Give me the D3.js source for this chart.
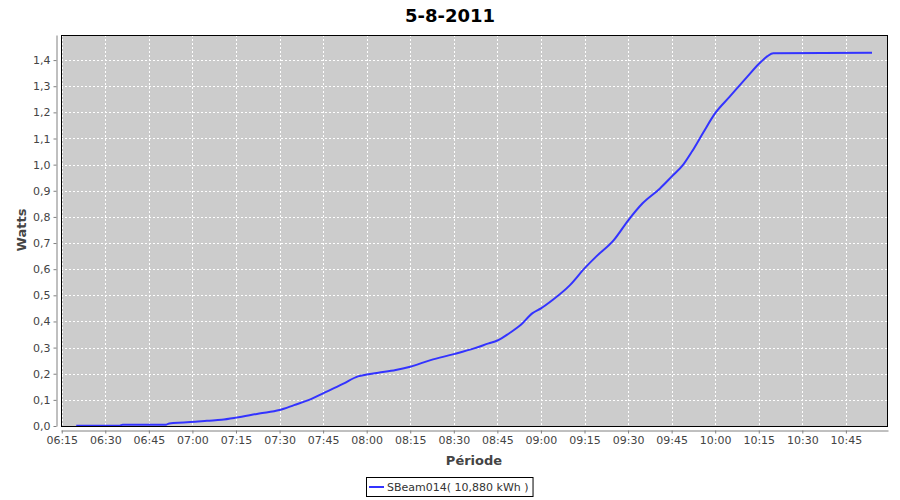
<!DOCTYPE html>
<html><head><meta charset="utf-8">
<script src="https://cdn.jsdelivr.net/npm/d3@7"></script>
<style>body{margin:0;background:#fff}svg{display:block}</style>
</head><body><svg id="c" width="900" height="500"></svg>
<script>
const title = "5-8-2011";
const seriesName = "SBeam014( 10,880 kWh )";
const times = ["06:20","06:35","06:36","06:51","06:52","06:57","07:01","07:05","07:10","07:15","07:23","07:30","07:35","07:41","07:45","07:52","07:57","08:00","08:04","08:10","08:15","08:22","08:30","08:37","08:42","08:45","08:49","08:53","08:57","09:00","09:04","09:10","09:15","09:19","09:25","09:30","09:35","09:41","09:45","09:49","09:52","09:56","10:00","10:05","10:11","10:15","10:18","10:20","10:54"];
const values = [0.001,0.001,0.005,0.005,0.010,0.013,0.016,0.020,0.024,0.032,0.048,0.061,0.080,0.104,0.125,0.162,0.190,0.197,0.204,0.214,0.227,0.252,0.275,0.297,0.316,0.327,0.354,0.386,0.431,0.450,0.482,0.539,0.603,0.648,0.710,0.786,0.852,0.909,0.954,1.000,1.050,1.125,1.197,1.260,1.336,1.385,1.415,1.426,1.428];
const xTickLabels = ["06:15","06:30","06:45","07:00","07:15","07:30","07:45","08:00","08:15","08:30","08:45","09:00","09:15","09:30","09:45","10:00","10:15","10:30","10:45"];
const yTicks = [0,0.1,0.2,0.3,0.4,0.5,0.6,0.7,0.8,0.9,1.0,1.1,1.2,1.3,1.4];

const parse = s => { const p = s.split(":"); return new Date(2011,7,5,+p[0],+p[1],p[2]?+p[2]:0); };
const data = times.map((t,i)=>({t:parse(t), v:values[i]}));

const L=61, R=888, T=35, B=426;
const svg = d3.select("#c");
const x = d3.scaleTime().domain([parse("06:14:45"), parse("10:59:30")]).range([L,R]);
const y = d3.scaleLinear().domain([0,1.496]).range([B,T]);
const fmt = d3.format(".1f");
const font = "DejaVu Sans";

svg.append("rect").attr("x",L).attr("y",T).attr("width",R-L).attr("height",B-T).attr("fill","#cccccc");

const xt = xTickLabels.map(parse);
svg.append("g").selectAll("line").data(xt).join("line")
  .attr("x1",d=>Math.round(x(d))+0.5).attr("x2",d=>Math.round(x(d))+0.5).attr("y1",T).attr("y2",B)
  .attr("stroke","#fff").attr("stroke-dasharray","2,2").attr("stroke-width",1);
svg.append("g").selectAll("line").data(yTicks).join("line")
  .attr("y1",d=>Math.round(y(d))+0.5).attr("y2",d=>Math.round(y(d))+0.5).attr("x1",L).attr("x2",R)
  .attr("stroke","#fff").attr("stroke-dasharray","2,2").attr("stroke-width",1);

svg.append("path").datum(data)
  .attr("d", d3.line().curve(d3.curveMonotoneX).x(d=>x(d.t)).y(d=>y(d.v)))
  .attr("fill","none").attr("stroke","#3333ff").attr("stroke-width",2);

svg.append("rect").attr("x",L+0.5).attr("y",T+0.5).attr("width",R-L-1).attr("height",B-T).attr("fill","none").attr("stroke","#000").attr("stroke-width",1);

// axes
const xAxis = svg.append("g").attr("transform",`translate(0,${B+4.5})`)
  .call(d3.axisBottom(x).tickValues(xt).tickFormat(d3.timeFormat("%H:%M")).tickSizeInner(3).tickSizeOuter(0).tickPadding(3));
xAxis.select(".domain").attr("stroke","#808080");
xAxis.selectAll(".tick line").attr("stroke","#808080");
xAxis.selectAll("text").attr("font-family",font).attr("font-size",11).attr("fill","#444");

const yAxis = svg.append("g").attr("transform",`translate(${L-4.5},0)`)
  .call(d3.axisLeft(y).tickValues(yTicks).tickFormat(d=>fmt(d).replace(".",",")).tickSizeInner(3).tickSizeOuter(0).tickPadding(3));
yAxis.select(".domain").attr("stroke","#808080");
yAxis.selectAll(".tick line").attr("stroke","#808080");
yAxis.selectAll("text").attr("font-family",font).attr("font-size",11).attr("fill","#444");

svg.append("text").attr("x",450).attr("y",22).attr("text-anchor","middle")
  .attr("font-family",font).attr("font-weight","bold").attr("font-size",18).text(title);
svg.append("text").attr("x",474).attr("y",465).attr("text-anchor","middle")
  .attr("font-family",font).attr("font-weight","bold").attr("font-size",13).attr("fill","#444").text("Période");
svg.append("text").attr("transform","translate(26,230) rotate(-90)").attr("text-anchor","middle")
  .attr("font-family",font).attr("font-weight","bold").attr("font-size",13).attr("fill","#444").text("Watts");

// legend
const lg = svg.append("g");
const lt = lg.append("text").attr("x",387).attr("y",491).attr("font-family",font).attr("font-size",11).attr("fill","#333").text(seriesName);
const w = lt.node().getComputedTextLength();
lg.insert("rect","text").attr("x",366.5).attr("y",477.5).attr("width",387+w+4-366).attr("height",19).attr("fill","#fff").attr("stroke","#000");
lg.append("line").attr("x1",369).attr("x2",384).attr("y1",487).attr("y2",487).attr("stroke","#3333ff").attr("stroke-width",2);
</script></body></html>
